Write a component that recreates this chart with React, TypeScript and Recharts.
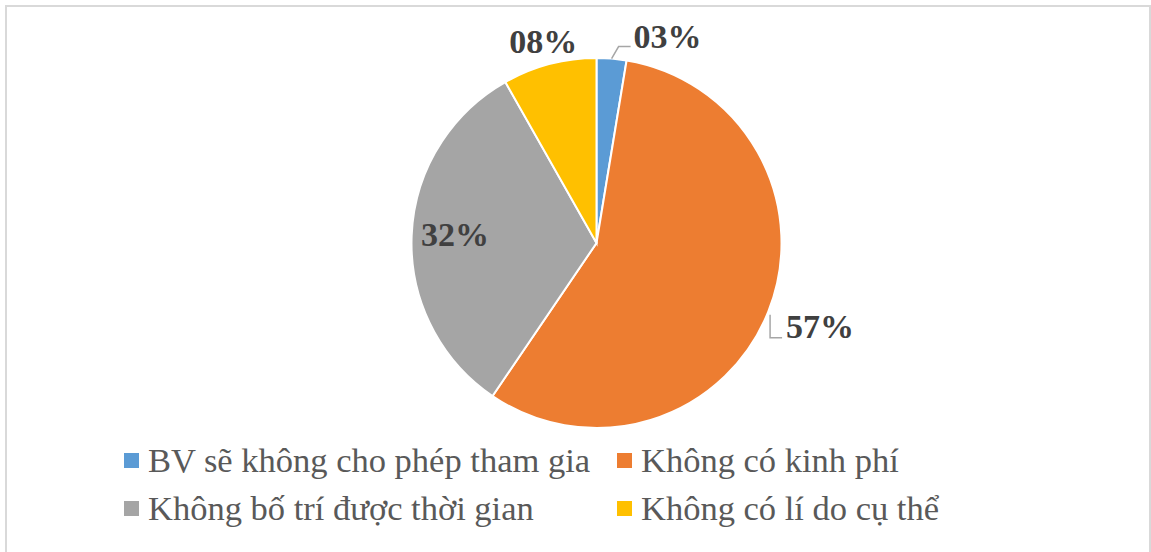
import { PieChart, Pie, Cell } from 'recharts';

const reasons = [
  'BV sẽ không cho phép tham gia',
  'Không có kinh phí',
  'Không bố trí được thời gian',
  'Không có lí do cụ thể',
];
const shares = [2.6, 56.9, 32.3, 8.2];
const COLORS = ['#5b9bd5', '#ed7d31', '#a5a5a5', '#ffc000'];

const data = reasons.map((name, i) => ({ name, value: shares[i] }));

const FONT = '"Liberation Serif", "Times New Roman", serif';
const RADIAN = Math.PI / 180;

const fmt = (p: number) => `${String(Math.round(p * 100)).padStart(2, '0')}%`;

function renderLabel(props: any) {
  const { cx, cy, midAngle, outerRadius, percent, index } = props;
  const polar = (r: number) => ({
    x: cx + r * Math.cos(-midAngle * RADIAN),
    y: cy + r * Math.sin(-midAngle * RADIAN),
  });
  const text = fmt(percent);
  const common = { fill: '#404040', fontFamily: FONT, fontWeight: 700, fontSize: 34 };

  if (index === 0) {
    const p1 = polar(outerRadius);
    const p2 = { x: p1.x + 7, y: p1.y - 12 };
    const p3 = { x: p2.x + 12, y: p2.y };
    return (
      <g>
        <polyline points={`${p1.x},${p1.y} ${p2.x},${p2.y} ${p3.x},${p3.y}`} fill="none" stroke="#a6a6a6" strokeWidth={1.5} />
        <text x={p3.x + 3} y={p2.y + 1} textAnchor="start" {...common}>{text}</text>
      </g>
    );
  }
  if (index === 1) {
    const b = polar(outerRadius + 3);
    const lx = b.x - 1;
    const top = b.y + 2;
    return (
      <g>
        <polyline points={`${lx},${top} ${lx},${top + 23} ${lx + 12},${top + 23}`} fill="none" stroke="#a6a6a6" strokeWidth={1.5} />
        <text x={lx + 16} y={top + 23} textAnchor="start" {...common}>{text}</text>
      </g>
    );
  }
  if (index === 2) {
    const p = polar(outerRadius * 0.765);
    return <text x={p.x} y={p.y + 9} textAnchor="middle" {...common}>{text}</text>;
  }
  const p = polar(outerRadius * 1.13);
  return <text x={p.x} y={p.y + 12} textAnchor="middle" {...common}>{text}</text>;
}

function LegendBlock() {
  const cols = [124, 617];
  const rows = [472, 520];
  return (
    <div style={{ position: 'absolute', left: 0, top: 0, width: 1151, height: 552, pointerEvents: 'none' }}>
      <svg width={1151} height={552}>
        {reasons.map((name, i) => {
          const x = cols[i % 2];
          const y = rows[Math.floor(i / 2)];
          return (
            <g key={name}>
              <rect x={x} y={y - 19} width={15} height={15} fill={COLORS[i]} />
              <text x={x + 24} y={y} fill="#595959" fontFamily={FONT} fontSize={34.5}>{name}</text>
            </g>
          );
        })}
      </svg>
    </div>
  );
}

export default function App() {
  return (
    <div style={{ position: 'absolute', left: 0, top: 0, width: 1151, height: 552, background: '#fff', overflow: 'hidden' }}>
      <div style={{ position: 'absolute', left: 5, top: 5, width: 1146, height: 600, border: '2px solid #d9d9d9', boxSizing: 'border-box' }} />
      <div style={{ position: 'absolute', left: 0, top: 0 }}>
        <PieChart width={1151} height={552} margin={{ top: 0, right: 0, bottom: 0, left: 0 }}>
          <Pie
            data={data}
            dataKey="value"
            cx={596.5}
            cy={243}
            outerRadius={185}
            startAngle={90}
            endAngle={-270}
            stroke="#fff"
            strokeWidth={2}
            labelLine={false}
            label={renderLabel}
            isAnimationActive={false}
          >
            {data.map((_, i) => (
              <Cell key={i} fill={COLORS[i]} />
            ))}
          </Pie>
        </PieChart>
      </div>
      <LegendBlock />
    </div>
  );
}
